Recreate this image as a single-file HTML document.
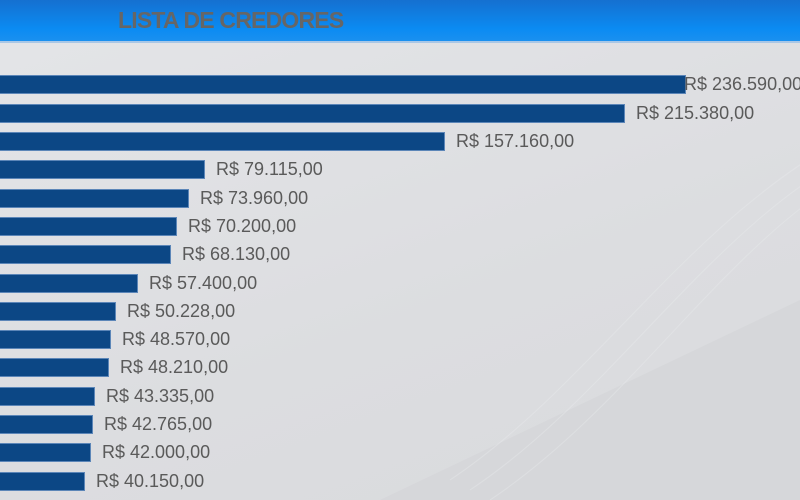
<!DOCTYPE html>
<html><head><meta charset="utf-8"><style>
html,body{margin:0;padding:0}
body{width:800px;height:500px;position:relative;overflow:hidden;background:linear-gradient(160deg,#e4e5e8 0%,#dcdde0 60%,#d9dadd 100%);font-family:"Liberation Sans",sans-serif}
.hdr{position:absolute;left:0;top:0;width:800px;height:41px;background:linear-gradient(180deg,#1570d0 0%,#0b8bf2 70%,#1a90f0 100%);border-bottom:2px solid #a9c7e6}
.ttl{position:absolute;left:118px;top:7px;font-size:23px;font-weight:bold;color:#666;letter-spacing:-0.8px}
.b{position:absolute;left:0;height:19px;background:#0c4785;border:1px solid #5c86b8;border-left:none;box-sizing:border-box}
.l{position:absolute;font-size:18px;color:#5a5a5a;white-space:nowrap;line-height:19px}
.wave{position:absolute;left:0;top:0}
</style></head><body>
<svg class="wave" width="800" height="500">
<polygon points="380,500 800,300 800,500" fill="#d6d7da"/>
<g fill="none" stroke="#eceef0" stroke-width="1" opacity="0.35">
<path d="M450,480 C600,380 700,200 880,120"/>
<path d="M470,490 C620,390 720,210 880,140"/>
<path d="M490,500 C640,400 740,220 880,160"/>
</g>
</svg>
<div class="hdr"><div class="ttl">LISTA DE CREDORES</div></div>
<div class="b" style="top:75px;width:686px"></div><div class="l" style="top:75px;left:684px">R$ 236.590,00</div>
<div class="b" style="top:104px;width:625px"></div><div class="l" style="top:104px;left:636px">R$ 215.380,00</div>
<div class="b" style="top:132px;width:445px"></div><div class="l" style="top:132px;left:456px">R$ 157.160,00</div>
<div class="b" style="top:160px;width:205px"></div><div class="l" style="top:160px;left:216px">R$ 79.115,00</div>
<div class="b" style="top:189px;width:189px"></div><div class="l" style="top:189px;left:200px">R$ 73.960,00</div>
<div class="b" style="top:217px;width:177px"></div><div class="l" style="top:217px;left:188px">R$ 70.200,00</div>
<div class="b" style="top:245px;width:171px"></div><div class="l" style="top:245px;left:182px">R$ 68.130,00</div>
<div class="b" style="top:274px;width:138px"></div><div class="l" style="top:274px;left:149px">R$ 57.400,00</div>
<div class="b" style="top:302px;width:116px"></div><div class="l" style="top:302px;left:127px">R$ 50.228,00</div>
<div class="b" style="top:330px;width:111px"></div><div class="l" style="top:330px;left:122px">R$ 48.570,00</div>
<div class="b" style="top:358px;width:109px"></div><div class="l" style="top:358px;left:120px">R$ 48.210,00</div>
<div class="b" style="top:387px;width:95px"></div><div class="l" style="top:387px;left:106px">R$ 43.335,00</div>
<div class="b" style="top:415px;width:93px"></div><div class="l" style="top:415px;left:104px">R$ 42.765,00</div>
<div class="b" style="top:443px;width:91px"></div><div class="l" style="top:443px;left:102px">R$ 42.000,00</div>
<div class="b" style="top:472px;width:85px"></div><div class="l" style="top:472px;left:96px">R$ 40.150,00</div>
</body></html>
